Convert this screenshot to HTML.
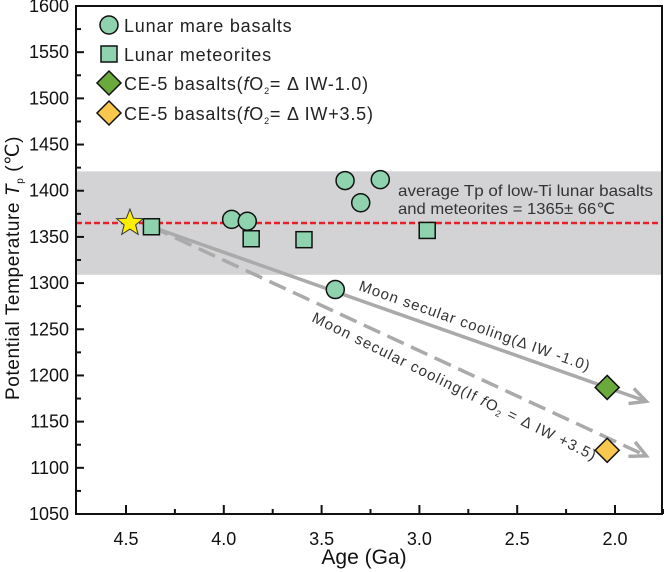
<!DOCTYPE html>
<html><head><meta charset="utf-8"><style>
body{margin:0;background:#fff;}
svg{display:block;font-family:"Liberation Sans",Arial,sans-serif;}
</style></head><body>
<svg id="c" width="664" height="572"></svg>
<script>
const yTicks=[1050,1100,1150,1200,1250,1300,1350,1400,1450,1500,1550,1600];
const xTicks=[4.5,4.0,3.5,3.0,2.5,2.0];
const circleAges=[3.96,3.88,3.38,3.30,3.20,3.43];
const circleTemps=[1369,1367,1411,1387,1412,1293];
const squareAges=[4.37,3.86,3.59,2.96];
const squareTemps=[1361,1348,1347,1357];
const diamondAges=[2.04,2.04];
const diamondTemps=[1187,1119];
const starAge=[4.48];const starTemp=[1365];
const bandRange=[1309,1421];
const avgTemp=[1365];
const arrowSolid=[4.37,1361,1.84,1172];
const arrowDashed=[4.37,1361,1.84,1113];

const L=76,R=662,T=6,B=514;
const X=a=>126+(4.5-a)*195.6;
const Y=t=>B-(t-1050)*(B-T)/550;
const NS='http://www.w3.org/2000/svg';
const svg=document.getElementById('c');
function mk(tag,attrs,parent){const e=document.createElementNS(NS,tag);for(const k in attrs)e.setAttribute(k,attrs[k]);(parent||svg).appendChild(e);return e;}

let band=mk('rect',{x:L,y:Y(bandRange[1]),width:R-L,height:Y(bandRange[0])-Y(bandRange[1]),fill:'#d3d3d5'});


let avg=mk('line',{x1:L,x2:R,y1:Y(avgTemp[0]),y2:Y(avgTemp[0]),stroke:'#e8202a','stroke-width':2.5,'stroke-dasharray':'6,3'});


let bt=mk('text',{x:398,y:196,'font-size':16,textLength:255,lengthAdjust:'spacingAndGlyphs',fill:'#333'});bt.textContent='average Tp of low-Ti lunar basalts';


let bt2=mk('text',{x:398,y:214,'font-size':16,textLength:217,lengthAdjust:'spacingAndGlyphs',fill:'#333'});bt2.textContent='and meteorites = 1365± 66℃';



function arrow(a,dash,name){
 const x1=X(a[0]),y1=Y(a[1]),x2=X(a[2]),y2=Y(a[3]);
 const g=mk('g',{});
 
 
 mk('line',{x1,y1,x2,y2,stroke:'#aaa','stroke-width':3.5,'stroke-dasharray':dash?'18,8':'none'},g);
 const ang=Math.atan2(y2-y1,x2-x1);
 const hx=(d,o)=>[x2-d*Math.cos(ang)+o*Math.sin(ang),y2-d*Math.sin(ang)-o*Math.cos(ang)];
 const p1=hx(16,8),p2=hx(16,-8);
 mk('polyline',{points:`${p1[0]},${p1[1]} ${x2},${y2} ${p2[0]},${p2[1]}`,fill:'none',stroke:'#aaa','stroke-width':3.5},g);
 return ang*180/Math.PI;
}
const a1=arrow(arrowSolid,false,'cooling-arrow-solid');
const a2=arrow(arrowDashed,true,'cooling-arrow-dashed');
let t1=mk('text',{x:0,y:0,'font-size':15,'letter-spacing':1,fill:'#333',transform:`translate(358,290) rotate(${a1})`});
t1.textContent='Moon secular  cooling(Δ IW -1.0)';


let t2=mk('text',{x:0,y:0,'font-size':15,'letter-spacing':1.2,fill:'#333',transform:`translate(311,321) rotate(${a2+1.5})`});
t2.innerHTML='Moon secular  cooling(If <tspan font-style="italic">f</tspan>O<tspan font-size="9" dy="3">2</tspan><tspan dy="-3"> = Δ IW +3.5)</tspan>';



function circ(cx,cy,name){const e=mk('circle',{cx,cy,r:9,fill:'#8fd3ae',stroke:'#111','stroke-width':1.5});return e;}
function sq(cx,cy,name){const e=mk('rect',{x:cx-8,y:cy-8,width:16,height:16,fill:'#8fd3ae',stroke:'#111','stroke-width':1.5});return e;}
function dia(cx,cy,fill,name){const e=mk('polygon',{points:`${cx},${cy-12} ${cx+12},${cy} ${cx},${cy+12} ${cx-12},${cy}`,fill,stroke:'#111','stroke-width':1.5});return e;}

circleAges.forEach((a,i)=>{circ(X(a),Y(circleTemps[i]),'mare-basalt-point');});
squareAges.forEach((a,i)=>{sq(X(a),Y(squareTemps[i]),'meteorite-point');});
const dfill=['#6aaa3c','#f8c74e'];
diamondAges.forEach((a,i)=>{dia(X(a),Y(diamondTemps[i]),dfill[i],'ce5-point');});
(function(){const cx=X(starAge[0]),cy=Y(starTemp[0]);let p=[];for(let k=0;k<10;k++){const r=k%2?6:14,an=-Math.PI/2+k*Math.PI/5;p.push((cx+r*Math.cos(an))+','+(cy+r*Math.sin(an)));}
const s=mk('polygon',{points:p.join(' '),fill:'#ffee00',stroke:'#333','stroke-width':1});

})();

let ax=mk('path',{d:`M${L},${T} L${L},${B} L${R},${B} L${R},${T} Z`,fill:'none',stroke:'#111','stroke-width':2});


yTicks.forEach(t=>{const y=Y(t);mk('line',{x1:L,x2:L+8,y1:y,y2:y,stroke:'#111','stroke-width':2});
 if(t<1600)mk('line',{x1:L,x2:L+5,y1:Y(t+25),y2:Y(t+25),stroke:'#111','stroke-width':2});
 const e=mk('text',{x:L-7,y:y+6,'font-size':18,'text-anchor':'end',fill:'#111'});e.textContent=t;
 
 });
xTicks.forEach(t=>{const x=X(t);mk('line',{x1:x,x2:x,y1:B,y2:B-9,stroke:'#111','stroke-width':2});
 mk('line',{x1:X(t-0.25),x2:X(t-0.25),y1:B,y2:B-5,stroke:'#111','stroke-width':2});
 const e=mk('text',{x:x,y:B+31,'font-size':18,'text-anchor':'middle',fill:'#111'});e.textContent=t.toFixed(1);
 
 });
let xt=mk('text',{x:364,y:564,'font-size':21,'text-anchor':'middle',fill:'#111'});xt.textContent='Age (Ga)';


let yt=mk('text',{x:0,y:0,'font-size':19,'letter-spacing':0.6,'text-anchor':'middle',fill:'#111',transform:'translate(19,268) rotate(-90)'});
yt.innerHTML='Potential Temperature <tspan font-style="italic">T</tspan><tspan font-size="10" dy="4">p</tspan><tspan dy="-4"> (℃)</tspan>';



const lg=mk('g',{});


const leg=[['c','Lunar mare basalts',25],['s','Lunar meteorites',54],['d1','',83],['d2','',113]];
leg.forEach(([k,lab,y])=>{
 if(k=='c')lg.appendChild(circ(109,y,'legend-circle-marker'));
 if(k=='s')lg.appendChild(sq(109,y,'legend-square-marker'));
 if(k=='d1')lg.appendChild(dia(109,y,'#6aaa3c','legend-green-diamond'));
 if(k=='d2')lg.appendChild(dia(109,y,'#f8c74e','legend-yellow-diamond'));
 const e=mk('text',{x:124,y:y+7,'font-size':18,'letter-spacing':0.8,fill:'#222'},lg);
 if(lab)e.textContent=lab;else e.innerHTML='CE-5 basalts(<tspan font-style="italic">f</tspan>O<tspan font-size="9" dy="4">2</tspan><tspan dy="-4">= Δ IW'+(k=='d1'?'-1.0)':'+3.5)')+'</tspan>';
 
 
});
</script>
</body></html>
